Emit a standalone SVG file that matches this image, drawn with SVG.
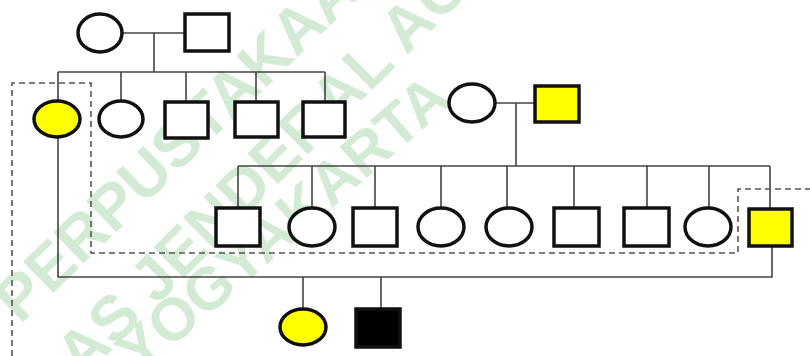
<svg xmlns="http://www.w3.org/2000/svg" width="810" height="356" viewBox="0 0 810 356">
<style>
.wm{font-family:"Liberation Sans",Arial,sans-serif;font-weight:bold;font-size:63px;fill:#d3ebd5}
.sym{stroke:#111;stroke-width:3.5;fill:#fff}
.aff{fill:#ffff00}
.blk{fill:#000}
.ln{stroke:#444;stroke-width:1.6;fill:none}
.dash{stroke:#555;stroke-width:1.6;fill:none;stroke-dasharray:6 4}
</style>
<rect width="810" height="356" fill="#fff"/>
<g id="watermark">
<text class="wm" transform="translate(20,325) rotate(-44)">PERPUSTAKAAN</text>
<text class="wm" transform="translate(82,380) rotate(-45)">AS JENDERAL AC</text>
<text class="wm" style="font-size:60px" transform="translate(139,376) rotate(-41)">YOGYAKARTA</text>
</g>
<g id="connectors">
<path class="ln" d="M122,33H185M154,33V72M58,72H325M58,72V100M121,72V101M186,72V102M256,72V102M325,72V102"/>
<path class="ln" d="M496,103H535M516,103V166M238,166H770M238,166V208M312,166V208M375,166V208M441,166V208M507,166V208M574,166V208M647,166V208M709,166V208M770,166V208"/>
<path class="ln" d="M58,137V277H772V246M303,277V309M381,277V309"/>
<path class="dash" d="M12,356V83H91V253H738V189H810"/>
</g>
<g id="g1-f"><ellipse class="sym" cx="100" cy="33" rx="22" ry="19"/></g>
<g id="g1-m"><rect class="sym" x="185" y="14" width="44" height="37"/></g>
<g id="g2-f1"><ellipse class="sym aff" cx="57" cy="119" rx="23" ry="18"/></g>
<g id="g2-f2"><ellipse class="sym" cx="121" cy="119" rx="22" ry="18"/></g>
<g id="g2-m1"><rect class="sym" x="165" y="102" width="43" height="36"/></g>
<g id="g2-m2"><rect class="sym" x="235" y="102" width="43" height="35"/></g>
<g id="g2-m3"><rect class="sym" x="303" y="102" width="42" height="35"/></g>
<g id="g2-f3"><ellipse class="sym" cx="472" cy="103" rx="23" ry="19"/></g>
<g id="g2-m4"><rect class="sym aff" x="535" y="86" width="44" height="36"/></g>
<g id="g3-m1"><rect class="sym" x="216" y="208" width="44" height="38"/></g>
<g id="g3-f1"><ellipse class="sym" cx="312" cy="227" rx="23" ry="19"/></g>
<g id="g3-m2"><rect class="sym" x="353" y="208" width="44" height="38"/></g>
<g id="g3-f2"><ellipse class="sym" cx="441" cy="227" rx="23" ry="19"/></g>
<g id="g3-f3"><ellipse class="sym" cx="509" cy="227" rx="23" ry="19"/></g>
<g id="g3-m3"><rect class="sym" x="554" y="208" width="45" height="38"/></g>
<g id="g3-m4"><rect class="sym" x="624" y="208" width="45" height="38"/></g>
<g id="g3-f4"><ellipse class="sym" cx="708" cy="227" rx="23" ry="19"/></g>
<g id="g3-m5"><rect class="sym aff" x="749" y="209" width="43" height="37"/></g>
<g id="g4-f1"><ellipse class="sym aff" cx="303" cy="327" rx="23" ry="18"/></g>
<g id="g4-m1"><rect class="sym blk" x="356" y="309" width="44" height="38"/></g>
</svg>
